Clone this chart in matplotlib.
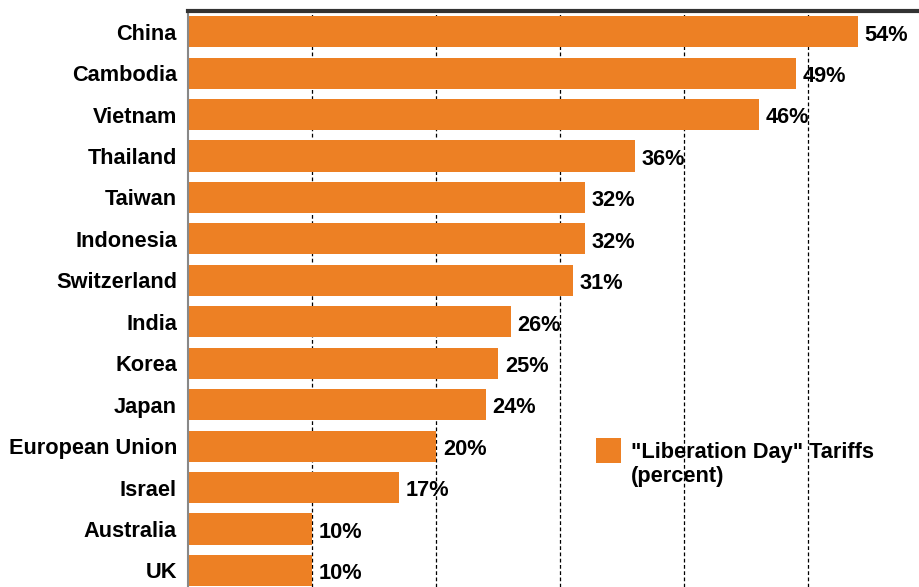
import matplotlib.pyplot as plt
from matplotlib.legend_handler import HandlerPatch
from matplotlib.patches import Rectangle

# "Liberation Day" tariff rates by trading partner (percent)
countries = ["China", "Cambodia", "Vietnam", "Thailand", "Taiwan", "Indonesia",
             "Switzerland", "India", "Korea", "Japan", "European Union", "Israel",
             "Australia", "UK"]
tariffs = [54, 49, 46, 36, 32, 32, 31, 26, 25, 24, 20, 17, 10, 10]

bar_color = "#ED8024"
font_size = 15.7
plt.rcParams["font.family"] = ["Liberation Sans", "DejaVu Sans"]
plt.rcParams["font.weight"] = "bold"


def top_square(legend, orig_handle, xdescent, ydescent, width, height, fontsize):
    # lift the swatch so it sits next to the first line of a two-line label
    return Rectangle((-xdescent, -ydescent + 0.6 * fontsize), width, width)


def from_first_bar(legend_handle, orig_handle):
    legend_handle.update_from(orig_handle.patches[0])


fig = plt.figure(figsize=(9.2, 5.87), dpi=100)
ax = fig.add_axes([188 / 920, 0, 732 / 920, 576 / 587])

pos = list(range(len(countries)))
bars = ax.barh(pos, tariffs, height=0.75, color=bar_color,
               label='"Liberation Day" Tariffs\n(percent)')

for p, v in zip(pos, tariffs):
    ax.text(v + 0.55, p + 0.08, f"{v}%", va="center", ha="left",
            fontsize=font_size, fontweight="bold", color="black")

ax.set_xlim(0, 59)
ax.set_ylim(13.4, -0.5)
ax.set_yticks(pos)
ax.set_yticklabels(countries, fontsize=font_size, fontweight="bold")
ax.set_xticks([10, 20, 30, 40, 50])
ax.tick_params(axis="x", length=0, labelbottom=False)
ax.tick_params(axis="y", length=0, pad=8)

ax.set_axisbelow(True)
ax.grid(axis="x", color="black", linestyle=(0, (3, 2)), linewidth=0.9)

for side in ("right", "bottom"):
    ax.spines[side].set_visible(False)
ax.spines["top"].set_linewidth(3)
ax.spines["top"].set_color("#333333")
ax.spines["left"].set_linewidth(1.5)
ax.spines["left"].set_color("#888888")

ax.legend(loc="upper left", bbox_to_anchor=(596 / 920, 1 - 442 / 587),
          bbox_transform=fig.transFigure, frameon=False, borderpad=0,
          borderaxespad=0, handlelength=1.15, handleheight=1.15,
          handletextpad=0.45, prop={"size": font_size, "weight": "bold"},
          handler_map={bars: HandlerPatch(patch_func=top_square,
                                          update_func=from_first_bar)})

fig.savefig("out.png", dpi=100)
